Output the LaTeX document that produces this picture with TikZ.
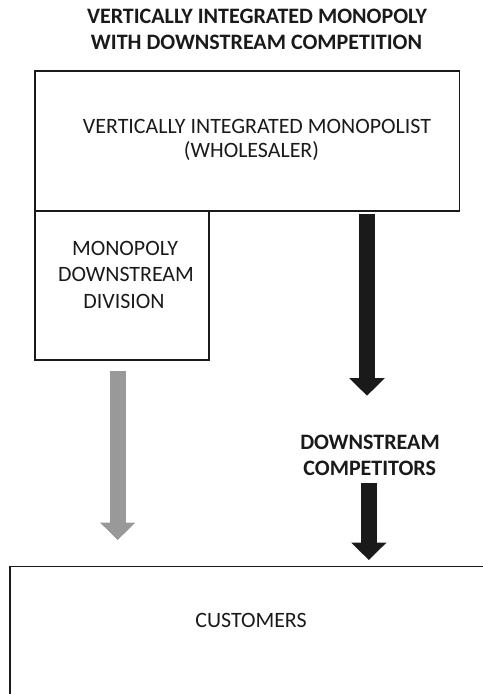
\documentclass[tikz,border=0pt]{standalone}
\usepackage{fontspec}
\setmainfont{Carlito}
\usetikzlibrary{arrows.meta}
\definecolor{ink}{HTML}{1A1A1A}
\definecolor{soft}{HTML}{999999}
\begin{document}
\begin{tikzpicture}[x=1bp,y=-1bp,
  txt/.style={font=\fontsize{22}{26}\selectfont, inner sep=0pt, anchor=base, text=ink},
  ttl/.style={txt, font=\fontsize{22.1}{26}\selectfont\bfseries},
  frame/.style={draw=ink, line width=1.8bp, inner sep=0pt, anchor=north west},
  blockarrow/.style={line width=15.7bp, -{Triangle[width=34.5bp,length=17.5bp]}}
]
\useasboundingbox (0,0) rectangle (483,694);
\clip (0,0) rectangle (483,694);

% heading
\node[ttl] (title1) at (257,23.3) {VERTICALLY INTEGRATED MONOPOLY};
\node[ttl] (title2) at (256.5,49.3) {WITH DOWNSTREAM COMPETITION};

% boxes
\node[frame, minimum width=424.3bp, minimum height=139.7bp] (mono) at (34.2,70.5) {};
\node[frame, minimum width=173.5bp, minimum height=148.6bp] (div) at (34.2,210.2) {};
\node[frame, minimum width=500bp, minimum height=200bp] (cust) at (9,565.5) {};

% box texts
\node[txt] (vim1) at (257,133.3) {VERTICALLY INTEGRATED MONOPOLIST};
\node[txt] (vim2) at (251.5,157.3) {(WHOLESALER)};
\node[txt] (mdd1) at (125,255) {MONOPOLY};
\node[txt] (mdd2) at (126,281.7) {DOWNSTREAM};
\node[txt] (mdd3) at (124,308.3) {DIVISION};
\node[ttl] (dc1) at (370,449.3) {DOWNSTREAM};
\node[ttl] (dc2) at (369.7,475) {COMPETITORS};
\node[txt] (custtext) at (251,627.7) {CUSTOMERS};

% flows
\coordinate (w0) at (367,214.3);
\coordinate (w1) at (367,395.7);
\coordinate (g0) at (117.7,371);
\coordinate (g1) at (117.7,540);
\coordinate (c0) at (368.8,482.7);
\coordinate (c1) at (368.8,560);
\draw[blockarrow, ink] (w0) -- (w1);
\draw[blockarrow, soft] (g0) -- (g1);
\draw[blockarrow, ink] (c0) -- (c1);
\end{tikzpicture}
\end{document}
